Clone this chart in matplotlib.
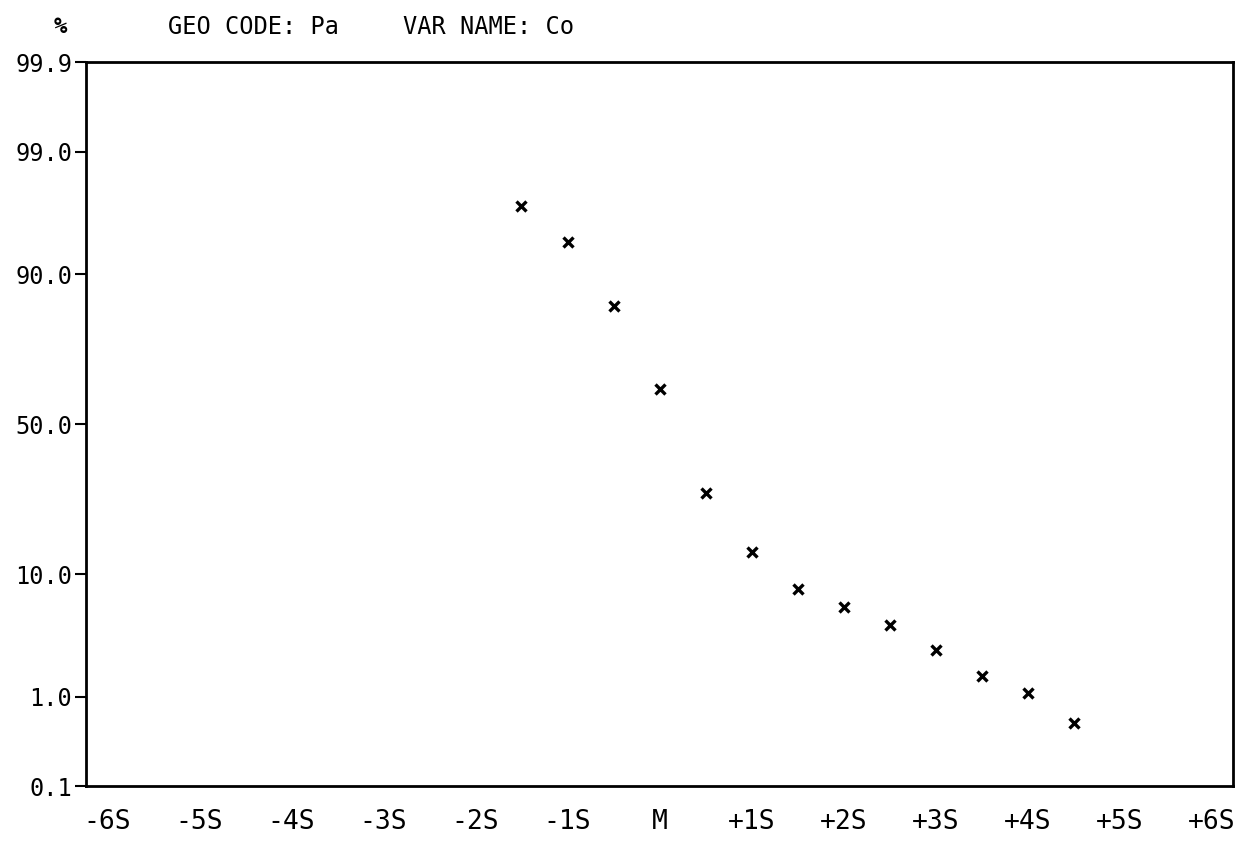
import matplotlib
matplotlib.use('Agg')
import matplotlib.pyplot as plt
import numpy as np
from statistics import NormalDist

plt.rcParams['font.family'] = ['DejaVu Sans Mono']

# cumulative percent vs. distance from mean (in S units)
x_value = [-1.5, -1.0, -0.5, 0.0, 0.5, 1.0, 1.5, 2.0, 2.5, 3.0, 3.5, 4.0, 4.5]
pct_value = [96.9, 94.0, 84.3, 61.9, 28.0, 13.8, 8.0, 5.95, 4.35, 2.7, 1.58, 1.1, 0.54]

x_ticks = [-6, -5, -4, -3, -2, -1, 0, 1, 2, 3, 4, 5, 6]
x_labels = ['-6S', '-5S', '-4S', '-3S', '-2S', '-1S', 'M', '+1S', '+2S', '+3S', '+4S', '+5S', '+6S']
y_ticks = [0.1, 1.0, 10.0, 50.0, 90.0, 99.0, 99.9]
y_labels = ['0.1', '1.0', '10.0', '50.0', '90.0', '99.0', '99.9']

# normal probability (probit) scale for the y axis
nd = NormalDist()
_probit = np.vectorize(nd.inv_cdf, otypes=[float])
_cdf = np.vectorize(nd.cdf, otypes=[float])

def fwd(p):
    p = np.clip(np.asarray(p, dtype=float) / 100.0, 1e-6, 1 - 1e-6)
    return _probit(p)

def inv(z):
    return _cdf(np.asarray(z, dtype=float)) * 100.0

fig = plt.figure(figsize=(12.48, 8.41), dpi=100)
ax = fig.add_axes([0.069, 0.065, 0.919, 0.861])

ax.plot(x_value, pct_value, linestyle='none', marker='x', color='black',
        markersize=7, markeredgewidth=2.4)

ax.set_yscale('function', functions=(fwd, inv))
ax.set_ylim(0.1, 99.9)
ax.set_xlim(-6.23, 6.23)

ax.set_yticks(y_ticks)
ax.set_yticklabels(y_labels)
ax.yaxis.set_minor_locator(matplotlib.ticker.NullLocator())
ax.set_xticks(x_ticks)
ax.set_xticklabels(x_labels)

ax.tick_params(axis='y', direction='out', length=8, width=1.5, labelsize=17, pad=2)
ax.tick_params(axis='x', length=0, labelsize=19, pad=16)

for s in ax.spines.values():
    s.set_linewidth(2)

fig.text(0.048, 0.968, '%', fontsize=16, ha='center', va='center', fontweight='bold')
fig.text(0.135, 0.968, 'GEO CODE: Pa', fontsize=17, ha='left', va='center')
fig.text(0.323, 0.968, 'VAR NAME: Co', fontsize=17, ha='left', va='center')

fig.savefig('out.png', dpi=100)
